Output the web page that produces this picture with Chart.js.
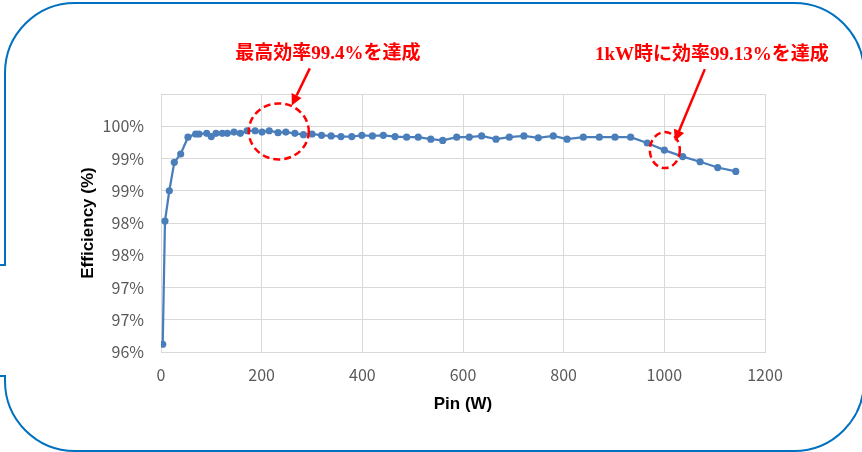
<!DOCTYPE html>
<html>
<head>
<meta charset="utf-8">
<script src="https://cdn.jsdelivr.net/npm/chart.js@4"></script>
<style>
html,body{margin:0;padding:0;background:#fff;}
#wrap{width:862px;height:452px;position:relative;}
</style>
</head>
<body>
<div id="wrap"><canvas id="c" width="862" height="452"></canvas></div>
<script>
// Input power (W)
const pinW = [3.4, 7.9, 16.5, 26.4, 39.1, 53.6, 68.9, 75.5, 90.8, 99.9,
  109.3, 121.8, 131.7, 145, 157.6, 171, 187, 200.7, 215, 232.5,
  248, 266, 283, 300, 319, 338, 357.6, 379, 399, 420,
  441.7, 465, 488, 511, 536, 559.7, 587.5, 612.5, 637, 665.6,
  692, 721, 749.6, 779.4, 806.6, 839, 870.8, 902, 933, 966,
  1000, 1036.5, 1071, 1106, 1142];
// Efficiency (%)
const efficiency = [96.12, 98.03, 98.50, 98.94, 99.07, 99.33, 99.38, 99.38, 99.39, 99.34,
  99.39, 99.39, 99.39, 99.41, 99.39, 99.43, 99.43, 99.41, 99.43, 99.40,
  99.41, 99.39, 99.37, 99.38, 99.36, 99.35, 99.34, 99.34, 99.36, 99.35,
  99.36, 99.34, 99.33, 99.33, 99.30, 99.28, 99.33, 99.33, 99.35, 99.30,
  99.33, 99.35, 99.32, 99.35, 99.30, 99.33, 99.33, 99.33, 99.33, 99.24,
  99.13, 99.03, 98.95, 98.86, 98.80];
const xTicks = [0, 200, 400, 600, 800, 1000, 1200];
const yTicks = [96, 96.5, 97, 97.5, 98, 98.5, 99, 99.5, 100];
const xTitle = 'Pin (W)';
const yTitle = 'Efficiency (%)';
const note1 = '最高効率99.4%を達成';
const note2 = '1kW時に効率99.13%を達成';
const note1At = {x: 234, y: 99.42};
const note2At = {x: 1001, y: 99.13};

const points = pinW.map((x, i) => ({x: x, y: efficiency[i]}));

const framePlugin = {
  id: 'frame',
  beforeDraw(chart) {
    const ctx = chart.ctx;
    ctx.save();
    ctx.fillStyle = '#fff';
    ctx.fillRect(0, 0, chart.width, chart.height);
    ctx.strokeStyle = '#0070C0';
    ctx.lineWidth = 2;
    const L = 5, T = 3, R = 864, B = 451, r = 70;
    ctx.beginPath();
    ctx.moveTo(0, 265);
    ctx.lineTo(L, 265);
    ctx.lineTo(L, T + r);
    ctx.arcTo(L, T, L + r, T, r);
    ctx.lineTo(R - r, T);
    ctx.arcTo(R, T, R, T + r, r);
    ctx.lineTo(R, B - r);
    ctx.arcTo(R, B, R - r, B, r);
    ctx.lineTo(L + r, B);
    ctx.arcTo(L, B, L, B - r, r);
    ctx.lineTo(L, 376);
    ctx.lineTo(0, 376);
    ctx.stroke();
    ctx.restore();
  }
};

function arrow(ctx, x0, y0, x1, y1) {
  const ang = Math.atan2(y1 - y0, x1 - x0);
  const hl = 11, hw = 5.5;
  const bx = x1 - hl * Math.cos(ang), by = y1 - hl * Math.sin(ang);
  ctx.beginPath();
  ctx.moveTo(x0, y0);
  ctx.lineTo(bx, by);
  ctx.stroke();
  ctx.beginPath();
  ctx.moveTo(x1, y1);
  ctx.lineTo(bx + hw * Math.sin(ang), by - hw * Math.cos(ang));
  ctx.lineTo(bx - hw * Math.sin(ang), by + hw * Math.cos(ang));
  ctx.closePath();
  ctx.fill();
}

const notePlugin = {
  id: 'notes',
  afterDatasetsDraw(chart) {
    const ctx = chart.ctx, sx = chart.scales.x, sy = chart.scales.y;
    ctx.save();
    ctx.strokeStyle = '#FF0000';
    ctx.fillStyle = '#FF0000';
    ctx.lineWidth = 2.5;
    const c1x = sx.getPixelForValue(note1At.x), c1y = sy.getPixelForValue(note1At.y);
    ctx.setLineDash([7, 4]);
    ctx.beginPath();
    ctx.ellipse(c1x, c1y, 30, 28, 0, 0, Math.PI * 2);
    ctx.stroke();
    const c2x = sx.getPixelForValue(note2At.x), c2y = sy.getPixelForValue(note2At.y);
    ctx.beginPath();
    ctx.ellipse(c2x, c2y, 15, 18, 0, 0, Math.PI * 2);
    ctx.stroke();
    ctx.setLineDash([]);
    arrow(ctx, c1x + 31, c1y - 63, c1x + 13, c1y - 26);
    arrow(ctx, c2x + 40, c2y - 81, c2x + 10, c2y - 9);
    ctx.font = 'bold 19px "Liberation Serif", "Noto Sans CJK JP", serif';
    ctx.textAlign = 'center';
    ctx.textBaseline = 'middle';
    ctx.fillText(note1, c1x + 49, c1y - 77);
    ctx.fillText(note2, c2x + 47, c2y - 95);
    ctx.restore();
  }
};

new Chart(document.getElementById('c'), {
  type: 'scatter',
  data: {
    datasets: [{
      data: points,
      showLine: true,
      borderColor: '#4A7EBB',
      backgroundColor: '#4A7EBB',
      borderWidth: 2.25,
      pointRadius: 3.6,
      pointHoverRadius: 3.6,
      pointBorderWidth: 0,
      tension: 0
    }]
  },
  options: {
    responsive: false,
    animation: false,
    events: [],
    layout: {padding: {left: 70, right: 97, top: 94, bottom: 37}},
    plugins: {legend: {display: false}, tooltip: {enabled: false}},
    scales: {
      x: {
        type: 'linear',
        min: 0, max: 1200,
        afterBuildTicks(axis) { axis.ticks = xTicks.map(v => ({value: v})); },
        afterFit(axis) { axis.height = 63; },
        grid: {color: '#D9D9D9', lineWidth: 1, drawTicks: false},
        border: {color: '#D9D9D9', width: 1},
        ticks: {color: '#595959', padding: 13, maxRotation: 0,
          font: {family: '"Noto Sans CJK JP", "Noto Sans", sans-serif', size: 16},
          callback: (v) => String(v)},
        title: {display: true, text: xTitle, color: '#000', padding: {top: 0, bottom: 0},
          font: {family: '"Liberation Sans", Arial, sans-serif', size: 17, weight: 'bold'}}
      },
      y: {
        type: 'linear',
        min: 96, max: 100,
        afterBuildTicks(axis) { axis.ticks = yTicks.map(v => ({value: v})); },
        afterFit(axis) { axis.width = 91; },
        grid: {color: '#D9D9D9', lineWidth: 1, drawTicks: false},
        border: {color: '#D9D9D9', width: 1},
        ticks: {color: '#595959', padding: 17,
          font: {family: '"Noto Sans CJK JP", "Noto Sans", sans-serif', size: 16},
          callback: (v) => v >= 100 ? '' : Math.round(v) + '%'},
        title: {display: true, text: yTitle, color: '#000', padding: {top: 8, bottom: 0},
          font: {family: '"Liberation Sans", Arial, sans-serif', size: 17, weight: 'bold'}}
      }
    }
  },
  plugins: [framePlugin, notePlugin]
});
</script>
</body>
</html>
